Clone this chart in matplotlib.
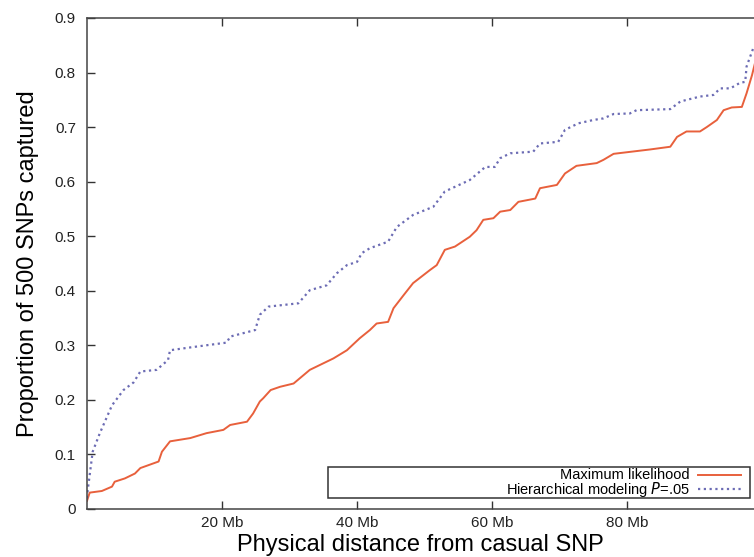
import matplotlib
matplotlib.use("Agg")
import matplotlib.pyplot as plt
from matplotlib.lines import Line2D
from matplotlib.patches import Rectangle

plt.rcParams['font.family'] = ['Liberation Sans', 'DejaVu Sans']

# distance from causal SNP (Mb) vs proportion of SNPs captured
ml_x = [0, 0.4, 2.2, 3.7, 4.1, 5.6, 7.1, 7.9, 10.6, 11.1, 12.3, 15.3, 17.7, 20.2,
        21.2, 23.7, 24.6, 25.6, 26.1, 27.2, 28.6, 30.6, 33.0, 36.5, 38.5, 40.4,
        41.9, 42.9, 44.6, 45.4, 46.9, 48.3, 50.8, 51.8, 53.0, 54.5, 56.7, 57.7,
        58.7, 60.2, 61.2, 62.7, 63.9, 66.4, 67.1, 69.6, 70.8, 72.5, 75.5, 76.5,
        78.0, 83.4, 86.4, 87.4, 88.8, 90.8, 91.8, 93.3, 94.3, 95.5, 97.0, 97.7,
        98.5, 99.0]
ml_y = [0.015, 0.03, 0.033, 0.041, 0.05, 0.056, 0.065, 0.075, 0.087, 0.105,
        0.124, 0.13, 0.139, 0.145, 0.154, 0.16, 0.175, 0.197, 0.203, 0.218,
        0.224, 0.23, 0.255, 0.276, 0.291, 0.313, 0.328, 0.34, 0.343, 0.368,
        0.392, 0.414, 0.438, 0.447, 0.475, 0.481, 0.499, 0.511, 0.53, 0.533,
        0.545, 0.548, 0.563, 0.569, 0.588, 0.594, 0.615, 0.629, 0.634, 0.64,
        0.651, 0.659, 0.664, 0.682, 0.692, 0.692, 0.70, 0.713, 0.731, 0.736,
        0.737, 0.762, 0.795, 0.82]

hm_x = [0, 0.05, 0.84, 1.9, 3.7, 5.4, 6.9, 7.9, 10.3, 12.0, 12.3, 15.8, 20.7,
        21.2, 24.9, 25.6, 26.9, 31.3, 33.0, 35.5, 37.0, 38.5, 40.0, 40.7, 41.9,
        44.6, 45.9, 48.3, 51.3, 53.0, 56.7, 59.0, 60.4, 61.2, 62.7, 66.1, 67.1,
        69.8, 70.8, 72.8, 75.0, 76.5, 78.0, 80.4, 81.4, 86.4, 87.9, 90.8, 92.8,
        93.8, 95.3, 96.7, 97.5, 97.7, 98.7]
hm_y = [0.02, 0.029, 0.105, 0.139, 0.19, 0.218, 0.232, 0.252, 0.255, 0.273,
        0.291, 0.297, 0.305, 0.316, 0.328, 0.356, 0.371, 0.377, 0.401, 0.41,
        0.432, 0.447, 0.453, 0.469, 0.478, 0.49, 0.517, 0.539, 0.554, 0.582,
        0.603, 0.627, 0.627, 0.643, 0.652, 0.655, 0.67, 0.673, 0.695, 0.707,
        0.713, 0.716, 0.724, 0.725, 0.731, 0.733, 0.747, 0.756, 0.759, 0.771,
        0.771, 0.781, 0.783, 0.811, 0.845]

x_ticks = [20, 40, 60, 80]
x_labels = ['20 Mb', '40 Mb', '60 Mb', '80 Mb']
y_ticks = [0, 0.1, 0.2, 0.3, 0.4, 0.5, 0.6, 0.7, 0.8, 0.9]
y_labels = ['0', '0.1', '0.2', '0.3', '0.4', '0.5', '0.6', '0.7', '0.8', '0.9']

red = '#e8603c'
blue = '#6c6cb4'

fig = plt.figure(figsize=(7.54, 5.57), dpi=100)
ax = fig.add_axes([0.1154, 0.0862, 0.8846, 0.8815])

ax.plot(ml_x, ml_y, color=red, lw=1.4)
ax.plot(hm_x, hm_y, color=blue, lw=1.6, ls=(0, (1, 1.6)))

ax.set_xlim(0, 98.8)
ax.set_ylim(0, 0.9)
ax.set_xticks(x_ticks)
ax.set_xticklabels(x_labels)
ax.set_yticks(y_ticks)
ax.set_yticklabels(y_labels)
ax.tick_params(direction='in', length=6, width=1, colors='#333333',
               labelsize=11, labelcolor='#222222', top=True)
ax.tick_params(axis='x', pad=5)
ax.tick_params(axis='y', pad=8)
for s in ['left', 'bottom', 'top']:
    ax.spines[s].set_color('#444444')
    ax.spines[s].set_linewidth(1.1)
ax.spines['right'].set_visible(False)

ax.set_xlabel('Physical distance from casual SNP', fontsize=17, labelpad=3)
ax.set_ylabel('Proportion of 500 SNPs captured', fontsize=17, labelpad=11)

# gnuplot-style key, text right-aligned with sample line on the right
ax.add_patch(Rectangle((0.361, 0.023), 0.633, 0.0625, transform=ax.transAxes,
                       fill=False, edgecolor='#333333', lw=1.1, zorder=3))
ax.text(0.904, 0.0695, 'Maximum likelihood', transform=ax.transAxes,
        ha='right', va='center', fontsize=10.5)
ax.text(0.904, 0.0405, 'Hierarchical modeling $\\it{P}$=.05', transform=ax.transAxes,
        ha='right', va='center', fontsize=10.5)
ax.add_line(Line2D([0.916, 0.981], [0.0695, 0.0695], transform=ax.transAxes,
                   color=red, lw=1.4))
ax.add_line(Line2D([0.916, 0.981], [0.0405, 0.0405], transform=ax.transAxes,
                   color=blue, lw=1.6, ls=(0, (1, 1.6))))

fig.savefig('out.png', dpi=100)
